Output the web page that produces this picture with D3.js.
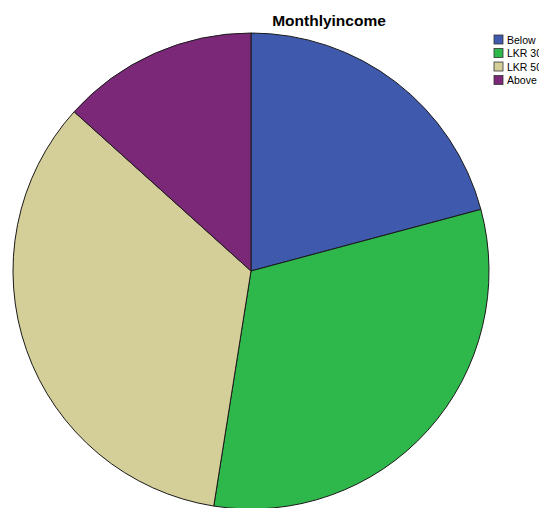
<!DOCTYPE html>
<html>
<head>
<meta charset="utf-8">
<script src="https://cdn.jsdelivr.net/npm/d3@7"></script>
<style>
  html, body { margin: 0; padding: 0; background: #fff; overflow: hidden; }
  svg { display: block; }
</style>
</head>
<body>
<svg id="chart" width="539" height="508"></svg>
<script>
// Monthly income groups and respondent counts
const categories = ["Below LKR 30000", "LKR 30000-50000", "LKR 50000-100000", "Above LKR 100000"];
const counts = [25, 38, 41, 16];
const colors = ["#3f59ac", "#2eb84b", "#d4ce98", "#7c2879"];
const title = "Monthlyincome";

const svg = d3.select("#chart");
const cx = 251, cy = 271, r = 238;

const pie = d3.pie().sort(null).value(d => d.value);
const arc = d3.arc().innerRadius(0).outerRadius(r);
const data = categories.map((c, i) => ({ label: c, value: counts[i], color: colors[i] }));

svg.append("g")
  .attr("transform", `translate(${cx},${cy})`)
  .selectAll("path")
  .data(pie(data))
  .join("path")
  .attr("d", arc)
  .attr("fill", d => d.data.color)
  .attr("stroke", "#1a1a1a")
  .attr("stroke-width", 1)
  .attr("stroke-linejoin", "round");

svg.append("text")
  .attr("x", 329)
  .attr("y", 26)
  .attr("text-anchor", "middle")
  .attr("font-family", "Liberation Sans, Arial, sans-serif")
  .attr("font-weight", "bold")
  .attr("font-size", 15.5)
  .text(title);

// Legend: swatch plus label per income group
const legend = svg.append("g").attr("transform", "translate(494,35)");
const items = legend.selectAll("g")
  .data(data)
  .join("g")
  .attr("transform", (d, i) => `translate(0,${i * 13.5})`);
items.append("rect")
  .attr("width", 9).attr("height", 9)
  .attr("fill", d => d.color)
  .attr("stroke", "#333").attr("stroke-width", 0.8);
items.append("text")
  .attr("x", 13).attr("y", 8.5)
  .attr("font-family", "Liberation Sans, Arial, sans-serif")
  .attr("font-size", 10.5)
  .attr("fill", "#000")
  .text(d => d.label);
</script>
</body>
</html>
